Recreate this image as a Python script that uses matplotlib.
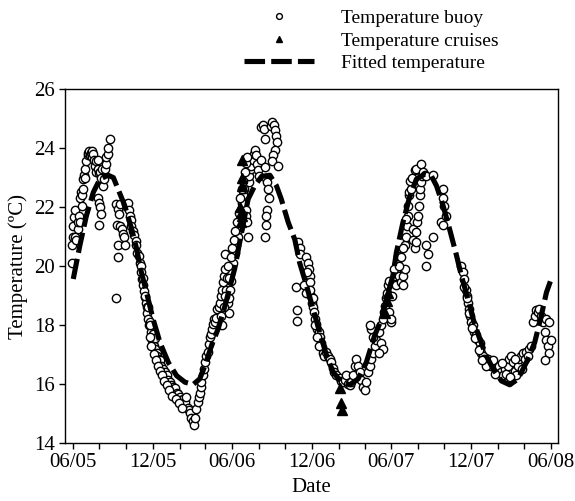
import datetime as dt
import matplotlib
matplotlib.use("Agg")
import matplotlib.pyplot as plt
import matplotlib.dates as mdates

plt.rcParams['font.family'] = ['Liberation Serif', 'DejaVu Serif']

start = dt.date(2005, 6, 1)

# buoy record, (days since 1 Jun 2005, temperature)
buoy_summer05 = [(-3, 20.1), (-1.5, 20.7), (1, 21.0), (1, 21.35), (3, 21.65), (5, 21.9), (6, 21.0),
                 (8, 20.9), (11, 21.25), (12, 21.5), (14, 21.7), (16, 21.5), (16, 22.3), (18, 22.5),
                 (20, 22.05), (21, 22.4), (24, 22.6), (24, 22.95), (26, 23.1), (27.5, 23.0), (29, 23.3),
                 (31, 23.55), (34, 23.75), (35, 23.85), (37, 23.9), (39, 23.75), (41, 23.85), (43, 23.9),
                 (44, 23.7), (47, 23.8), (49, 23.6), (50, 23.4), (52, 23.2), (54, 23.55), (57, 23.3),
                 (58, 23.6), (60, 23.15), (62, 23.2), (64, 23.0), (66, 23.3), (58, 22.3), (60, 22.15),
                 (62, 22.0), (64, 21.75), (60, 21.4), (70, 22.7), (72, 22.95), (73, 23.3), (75, 23.45),
                 (77, 23.7), (80, 23.8), (81, 24.0), (85, 24.3)]
buoy_winter05 = [(100, 22.1), (104, 21.95), (108, 22.1), (105, 21.75), (102, 21.4), (108, 21.35),
                 (112, 21.25), (115, 21.1), (118, 21.0), (104, 20.7), (104, 20.3), (119, 20.7), (100, 18.9),
                 (123, 22.1), (127, 22.15), (128, 21.9), (131, 21.7), (133, 21.55), (134.5, 21.35),
                 (138, 21.2), (141, 21.05), (144, 20.85), (146, 20.7), (148, 20.45), (151, 20.35),
                 (154, 20.1), (156, 20.0), (157, 19.8), (159, 19.55), (161, 19.35), (163.5, 19.15),
                 (165, 18.95), (167, 18.75), (169, 18.6), (171, 18.4), (173, 18.2), (174, 18.0),
                 (176.5, 18.1), (179, 17.75), (182, 17.5), (184, 17.4), (186.5, 17.3), (189.5, 17.2),
                 (192, 17.05), (194, 16.95), (197, 16.85), (199, 16.8), (203, 16.6), (207, 16.5),
                 (211, 16.4), (215, 16.3), (218.5, 16.15), (222, 16.05), (226, 15.95), (230, 15.9),
                 (234, 15.85), (238, 15.7), (241.5, 15.65), (245, 15.55), (249, 15.45), (253, 15.5),
                 (257, 15.4), (260.6, 15.55), (263, 15.2), (266, 15.1), (268, 15.0), (272, 14.85),
                 (276, 14.75), (278, 14.6), (281, 14.85), (283.5, 15.15), (286, 15.4), (289, 15.55),
                 (291, 15.7), (293, 15.9), (295, 16.05), (299, 16.3), (301, 16.5), (304, 16.75),
                 (306, 16.95), (309, 17.1), (312, 17.35), (314, 17.6), (316, 17.7), (319, 17.85),
                 (322, 18.05), (324, 18.2), (327, 18.1), (329, 18.25), (331.6, 18.55), (335, 18.6),
                 (337, 18.75), (339, 19.0), (342, 19.2), (345, 19.45), (347, 19.65), (348, 19.9),
                 (350, 20.4), (160, 19.6), (166, 19.0), (172, 18.6), (178, 18.0), (183, 17.7),
                 (188, 17.55), (176, 17.6), (180, 17.3), (185, 17.0), (190, 16.8), (196, 16.6),
                 (200, 16.45), (205, 16.3), (210, 16.1), (215, 15.95), (220, 15.8), (228, 15.6),
                 (236, 15.5), (244, 15.35), (250, 15.2)]
buoy_summer06 = [(352, 19.2), (355, 18.75), (357, 18.4), (359, 18.9), (361, 19.2), (363, 19.5),
                 (367.6, 20.1), (371.4, 20.45), (375.2, 20.7), (379, 21.0), (380.6, 21.25), (383, 21.5),
                 (385, 21.7), (386.7, 21.9), (388, 22.15), (390.5, 22.4), (392.8, 22.6), (396, 21.9),
                 (398, 21.7), (400.5, 21.5), (402, 21.0), (403.5, 22.85), (405.8, 23.05), (408, 23.3),
                 (409.6, 23.4), (413.4, 23.6), (415.7, 23.8), (418.8, 23.95), (421, 23.75), (423.4, 23.45),
                 (425, 23.25), (428.7, 23.05), (432.5, 23.6), (432.5, 24.7), (436.4, 24.8), (438.7, 24.65),
                 (440.2, 24.3), (441.7, 23.35), (444, 23.0), (446.3, 22.85), (447.8, 22.6), (449.3, 22.3),
                 (446.3, 21.9), (444, 21.7), (444, 21.4), (441.7, 21.0), (454, 24.75), (457, 24.9),
                 (461.6, 24.8), (464.6, 24.6), (467, 24.4), (469, 24.2), (463, 23.95), (459, 23.75),
                 (457, 23.55), (470.7, 23.4), (340, 18.3), (343, 18.0), (346, 18.6), (350, 19.0),
                 (353, 19.6), (356, 20.0), (358, 19.6), (362, 20.3), (365, 20.6), (369, 20.9),
                 (372, 21.2), (376, 21.5), (381, 21.8), (384, 22.3), (387, 22.6), (391, 22.9),
                 (394, 23.2), (397, 23.5), (400, 23.7)]
buoy_winter06 = [(512.8, 19.3), (515, 18.5), (515, 18.15), (516.6, 20.8), (520.4, 20.6), (522, 20.4),
                 (531.9, 19.35), (535.7, 20.3), (535.7, 19.1), (539.5, 20.1), (541, 19.9), (543.3, 19.65),
                 (545.6, 19.45), (547, 19.0), (548.7, 18.75), (551, 18.6), (553.3, 18.45), (556.3, 18.2),
                 (558.6, 18.05), (561, 17.85), (564, 17.75), (566, 17.6), (570, 17.4), (571.6, 17.25),
                 (574, 17.05), (577.7, 16.95), (581.5, 17.1), (585, 16.95), (589, 16.85), (593, 16.75),
                 (597, 16.55), (600.6, 16.4), (604.4, 16.3), (612, 16.2), (616, 16.1), (619.7, 16.05),
                 (623.5, 16.15), (627.4, 16.3), (631, 16.0), (635, 15.95), (638.8, 16.05), (642.6, 16.3),
                 (646.5, 16.6), (650.3, 16.85), (654, 16.6), (658, 16.4), (661.7, 16.15), (665.6, 15.9),
                 (669.4, 15.8), (673, 16.05), (677, 16.4), (681, 16.6), (684.7, 16.85), (688.5, 17.05),
                 (692, 17.3), (696, 17.5), (703.8, 17.75), (707.6, 18.0), (711.4, 18.2), (713.7, 18.45),
                 (715.2, 18.65), (719, 18.9), (721.3, 19.1), (722.9, 19.35), (724.4, 19.5), (726.7, 18.45),
                 (729, 18.1), (730.5, 18.2), (707.6, 17.4), (711.4, 17.2), (703.8, 17.05), (684.7, 17.85),
                 (688.5, 17.6), (681, 18.0), (537, 19.8), (544, 19.2), (550, 18.9), (555, 18.0),
                 (560, 17.6), (565, 17.3)]
buoy_summer07 = [(738, 19.67), (740.5, 19.35), (742, 19.85), (743.5, 20.1), (745.8, 20.35), (749.6, 19.67),
                 (753.4, 19.45), (757.3, 19.67), (758.8, 19.35), (761, 19.9), (761, 20.7), (765, 21.0),
                 (766.4, 21.35), (768.7, 21.7), (768.7, 22.05), (771, 22.4), (772.5, 22.5), (776.4, 22.6),
                 (780.2, 21.25), (781.7, 20.9), (784, 20.6), (786.3, 20.8), (787.8, 21.15), (789.3, 21.5),
                 (791.6, 21.7), (794, 22.05), (795.5, 22.4), (797, 22.6), (799.3, 22.85), (801.6, 23.05),
                 (784, 23.25), (787.8, 23.3), (799.3, 23.45), (803, 23.2), (807, 23.1), (810.7, 23.05),
                 (826, 23.1), (826, 21.0), (810.7, 20.7), (814.6, 20.4), (809, 20.0), (845, 21.5),
                 (849, 21.4), (849, 22.6), (850.5, 22.3), (852.8, 22.05), (855, 21.7), (733, 19.0),
                 (736, 19.9), (748, 20.0), (752, 20.3), (756, 20.6), (763, 21.6), (774, 22.9), (778, 23.0)]
buoy_winter07 = [(891, 20.0), (894.8, 19.8), (898.6, 19.55), (901, 19.2), (904, 19.0), (906, 18.75),
                 (908.5, 18.55), (911.6, 18.3), (914, 18.1), (917.7, 18.0), (921.5, 17.75), (925.3, 17.65),
                 (929, 17.5), (933, 17.4), (934.5, 17.2), (936.8, 17.05), (940.6, 16.95), (944.4, 16.85),
                 (952, 16.85), (956, 16.75), (959.7, 16.6), (963.5, 16.8), (971, 16.5), (975, 16.45),
                 (978.8, 16.6), (982.6, 16.4), (986.5, 16.3), (990.3, 16.5), (994, 16.35), (998, 16.6),
                 (1001.7, 16.85), (1005.6, 16.95), (1009.4, 16.75), (1013, 16.45), (1017, 16.3),
                 (1021, 16.6), (1024.7, 16.85), (1028.5, 16.95), (1032.3, 17.05), (1036, 16.85),
                 (1040, 17.1), (1047.6, 17.2), (1051.4, 17.3), (1055, 18.1), (1059, 18.3), (1063, 18.5),
                 (1066.7, 18.45), (1070.5, 18.55), (1074.3, 18.3), (1078, 18.1), (1082, 17.75),
                 (1085.8, 17.5), (1089.6, 17.3), (1093.4, 17.05), (1082, 16.8), (1097, 17.5),
                 (1085.8, 18.2), (1092, 18.1), (948, 16.6), (967, 16.35), (985, 16.7), (1003, 16.25),
                 (1015, 16.85), (1030, 16.5), (1044, 16.95), (897, 19.3), (903, 18.9), (909, 18.4),
                 (915, 17.9), (923, 17.55), (931, 17.15), (938, 16.8)]

# research cruises
cruise_days = [384, 385, 387, 387, 389, 389, 386, 612, 616, 617, 722, 720, 716]
cruise_temp = [22.0, 21.8, 21.7, 23.6, 23.0, 22.7, 21.5, 15.85, 15.35, 15.1, 19.1, 18.8, 18.4]

# fitted seasonal curve
fit_days = [1, 16, 31, 47, 62, 81, 93, 104, 119, 135, 146, 157, 169, 184, 200, 219, 238, 257, 276, 291,
            303, 318, 333, 349, 356, 371, 387, 402, 417, 433, 452, 467, 478, 494, 509, 520, 536, 551, 566,
            582, 597, 616, 635, 654, 673, 692, 708, 723, 734, 742, 757, 773, 788, 807, 822, 834, 849, 864,
            880, 891, 902, 918, 933, 948, 964, 983, 1002, 1021, 1040, 1059, 1074, 1086, 1095]
fit_temp = [19.56, 20.69, 21.7, 22.5, 22.95, 23.08, 23.0, 22.6, 22.05, 21.25, 20.6, 19.8, 19.1, 18.2, 17.4,
            16.73, 16.28, 16.06, 15.98, 16.17, 16.62, 17.3, 17.86, 18.65, 19.05, 19.9, 21.14, 22.27, 22.72,
            23.04, 23.08, 22.72, 22.27, 21.48, 20.9, 20.12, 19.33, 18.54, 17.75, 16.96, 16.4, 16.06, 15.97,
            16.17, 16.73, 17.64, 18.2, 19.1, 19.67, 20.46, 21.48, 22.38, 22.95, 23.12, 23.06, 22.72, 22.05,
            21.25, 20.35, 19.67, 19.1, 18.2, 17.53, 16.96, 16.5, 16.1, 15.97, 16.17, 16.73, 17.4, 18.3,
            19.1, 19.48]


def to_dates(days):
    return [start + dt.timedelta(days=float(d)) for d in days]


buoy = buoy_summer05 + buoy_winter05 + buoy_summer06 + buoy_winter06 + buoy_summer07 + buoy_winter07
buoy_days = [p[0] for p in buoy]
buoy_temp = [p[1] for p in buoy]

fig = plt.figure(figsize=(5.75, 5.01), dpi=100)
ax = fig.add_axes([0.113, 0.116, 0.857, 0.706])

ax.plot(to_dates(buoy_days), buoy_temp, 'o', ms=6, mfc='white', mec='black', mew=1.0,
        label='Temperature buoy', zorder=2)
line, = ax.plot(to_dates(fit_days), fit_temp, color='black', lw=3.7, label='Fitted temperature', zorder=3)
line.set_dashes([4.0, 1.2])
ax.plot(to_dates(cruise_days), cruise_temp, '^', ms=6.5, color='black', label='Temperature cruises', zorder=4)

ax.set_xlim(start - dt.timedelta(days=18), dt.date(2008, 6, 17))
ax.set_ylim(14, 26)
ax.set_yticks(range(14, 27, 2))
ax.xaxis.set_major_locator(mdates.MonthLocator(bymonth=(6, 12)))
ax.xaxis.set_minor_locator(mdates.MonthLocator(bymonth=(2, 4, 8, 10)))
ax.xaxis.set_major_formatter(mdates.DateFormatter('%m/%y'))

ax.tick_params(which='both', direction='out', length=4, width=1, labelsize=15, top=False, right=False)
for s in ax.spines.values():
    s.set_linewidth(1)

ax.set_xlabel('Date', fontsize=15)
ax.set_ylabel('Temperature (ºC)', fontsize=15)

h, l = ax.get_legend_handles_labels()
order = [0, 2, 1]
fig.legend([h[i] for i in order], [l[i] for i in order], loc='upper left', bbox_to_anchor=(0.404, 1.004),
           frameon=False, fontsize=14, handlelength=3.6, handletextpad=1.4, labelspacing=0.25,
           markerscale=0.7, borderaxespad=0.2)

fig.savefig('out.png', dpi=100)
